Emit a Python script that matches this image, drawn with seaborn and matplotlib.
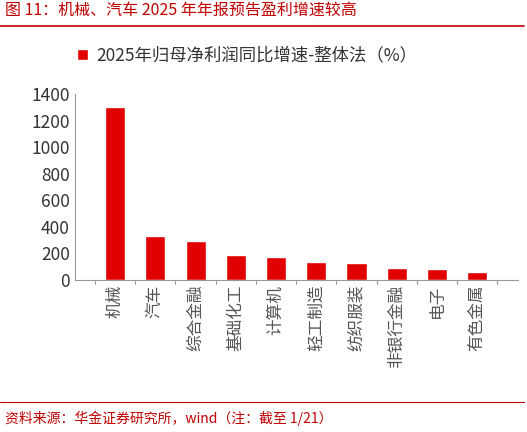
import pandas as pd
import matplotlib.pyplot as plt
import seaborn as sns

industries = ['机械', '汽车', '综合金融', '基础化工', '计算机', '轻工制造', '纺织服装', '非银行金融', '电子', '有色金属']
growth = [1300, 330, 295, 190, 170, 135, 125, 90, 85, 60]
yticks = [0, 200, 400, 600, 800, 1000, 1200, 1400]

sns.set_style('white')
plt.rcParams['font.family'] = ['Noto Sans CJK SC', 'DejaVu Sans']

df = pd.DataFrame({'industry': industries, 'growth': growth})
fig = plt.figure(figsize=(5.27, 4.32), dpi=100)
ax = fig.add_axes([0.142, 0.352, 0.84, 0.43])
sns.barplot(data=df, x='industry', y='growth', color='#e00000', width=0.5,
            saturation=1, ax=ax, label='2025年归母净利润同比增速-整体法（%）')
ax.set_ylim(0, 1400)
ax.set_yticks(yticks)
ax.set_xlabel('')
ax.set_ylabel('')
ax.tick_params(axis='y', labelsize=12.5, colors='#333333', length=0)
ax.tick_params(axis='x', labelsize=12, colors='#555555', rotation=90, length=0)
for s in ['top', 'right']:
    ax.spines[s].set_visible(False)
ax.spines['left'].set_color('#999999')
ax.spines['bottom'].set_color('#999999')
for i in range(len(industries) + 1):
    ax.plot([i - 0.5, i - 0.5], [0, -30], color='#999999', lw=0.8, clip_on=False)
ax.legend(loc='upper left', bbox_to_anchor=(-0.03, 1.34), frameon=False, fontsize=12.5,
          handlelength=0.6, handleheight=0.6, handletextpad=0.5, labelcolor='#333333')

fig.text(0.01, 0.965, '图 11：机械、汽车 2025 年年报预告盈利增速较高', color='#c00000', fontsize=11.5)
fig.add_artist(plt.Line2D([0.0, 0.995], [0.94, 0.94], color='#c00000', lw=1.2))
fig.add_artist(plt.Line2D([0.0, 0.995], [0.07, 0.07], color='#c00000', lw=0.8))
fig.text(0.01, 0.02, '资料来源：华金证券研究所，wind（注：截至 1/21）', color='#c00000',
         fontsize=10, style='italic')
fig.savefig('out.png', dpi=100)
